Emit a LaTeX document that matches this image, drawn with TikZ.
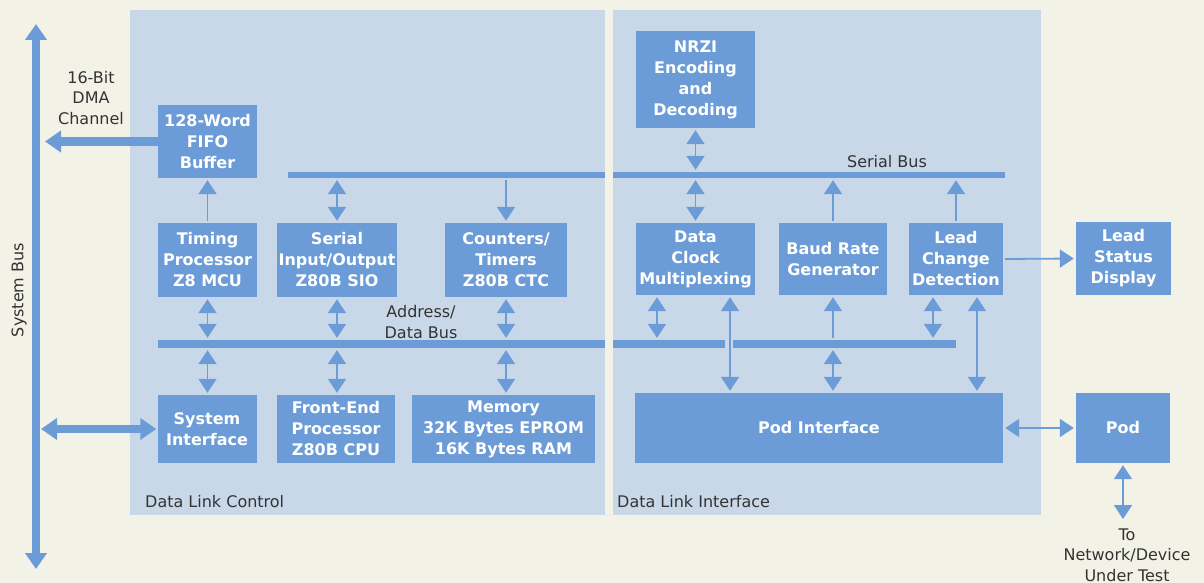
\documentclass[tikz,border=0pt]{standalone}
\usepackage{fontspec}
\usetikzlibrary{arrows.meta,calc}
\newfontfamily\djv{DejaVu Sans}
\newcommand\boxfnt{\djv\bfseries\fontsize{16}{21}\selectfont}
\newcommand\lblfnt{\djv\fontsize{16}{20.5}\selectfont}
\definecolor{bgc}{HTML}{F3F2E6}
\definecolor{panelc}{HTML}{C8D8E9}
\definecolor{boxc}{HTML}{6C9CD7}
\definecolor{txtc}{HTML}{333333}
\tikzset{
  box/.style={fill=boxc, text=white, font=\boxfnt, align=center, inner sep=0pt},
  bus/.style={fill=boxc, inner sep=0pt},
  lbl/.style={text=txtc, font=\lblfnt, align=center, inner sep=0pt},
  darr/.style={line width=1.8pt, draw=boxc, shorten <=2pt, shorten >=2pt,
    {Triangle[width=18pt,length=14pt]}-{Triangle[width=18pt,length=14pt]}},
  sarr/.style={line width=1.8pt, draw=boxc, shorten <=2pt, shorten >=2pt,
    -{Triangle[width=18pt,length=14pt]}},
  bigd/.style={line width=8pt, draw=boxc,
    {Triangle[width=21pt,length=16pt]}-{Triangle[width=21pt,length=16pt]}},
  bigs/.style={line width=8pt, draw=boxc, -{Triangle[width=21pt,length=16pt]}},
}
\begin{document}
\begin{tikzpicture}[x=1pt,y=-1pt]
\useasboundingbox (0,0) rectangle (1204,583);
\fill[bgc] (0,0) rectangle (1204,583);
% panels
\fill[panelc] (130,10) rectangle (609,515);
\fill[panelc] (609,10) rectangle (1041,515);
% buses
\node[bus, minimum width=717pt, minimum height=6pt] (sbus) at (646.5,175) {};
\node[bus, minimum width=567pt, minimum height=8pt] (abus1) at (441.5,344) {};
\node[bus, minimum width=223pt, minimum height=8pt] (abus2) at (844.5,344) {};
% gap between panels
\fill[bgc] (605,10) rectangle (613,515);
% boxes left
\node[box, minimum width=99pt, minimum height=73pt] (fifo) at (207.5,141.5) {128-Word\\FIFO\\Buffer};
\node[box, minimum width=99pt, minimum height=74pt] (timing) at (207.5,260) {Timing\\Processor\\Z8 MCU};
\node[box, minimum width=120pt, minimum height=74pt] (sio) at (337,260) {Serial\\Input/Output\\Z80B SIO};
\node[box, minimum width=122pt, minimum height=74pt] (ctc) at (506,260) {Counters/\\Timers\\Z80B CTC};
\node[box, minimum width=99pt, minimum height=68pt] (sysif) at (207,429) {System\\Interface};
\node[box, minimum width=118pt, minimum height=68pt] (fep) at (336,429) {Front-End\\Processor\\Z80B CPU};
\node[box, minimum width=183pt, minimum height=68pt] (mem) at (503.5,429) {Memory\\32K Bytes EPROM\\16K Bytes RAM};
% boxes right
\node[box, minimum width=119pt, minimum height=97pt] (nrzi) at (695.5,79.5) {NRZI\\Encoding\\and\\Decoding};
\node[box, minimum width=119pt, minimum height=72pt] (dcm) at (695.5,259) {Data\\Clock\\Multiplexing};
\node[box, minimum width=108pt, minimum height=72pt] (baud) at (833,259) {Baud Rate\\Generator};
\node[box, minimum width=94pt, minimum height=72pt] (lcd) at (956,259) {Lead\\Change\\Detection};
\node[box, minimum width=95pt, minimum height=73pt] (lsd) at (1123.5,258.5) {Lead\\Status\\Display};
\node[box, minimum width=368pt, minimum height=70pt] (podif) at (819,428) {Pod Interface};
\node[box, minimum width=94pt, minimum height=70pt] (pod) at (1123,428) {Pod};
% labels
\node[lbl, rotate=90] (lsys) at (19,290) {System Bus};
\node[lbl] (ldma) at (91,98) {16-Bit\\DMA\\Channel};
\node[lbl] (lser) at (887,162) {Serial Bus};
\node[lbl] (ladr) at (421,322) {Address/\\Data Bus};
\node[lbl, anchor=west] (ldlc) at (145,502) {Data Link Control};
\node[lbl, anchor=west] (ldli) at (617,502) {Data Link Interface};
\node[lbl] (lnet) at (1127,555) {To\\Network/Device\\Under Test};
% system bus
\coordinate (sbtop) at (36,24);
\coordinate (sbbot) at (36,569);
\draw[bigd] (sbtop) -- (sbbot);
\draw[bigs, shorten >=9pt] (fifo.west) -- (fifo.west -| sbtop);
\draw[bigd, shorten <=5pt, shorten >=1pt] (sysif.west -| sbtop) -- (sysif.west);
% left connectors
\draw[sarr] (timing.north) -- (fifo.south);
\draw[darr] (sio.north) -- (sio.north |- sbus.south);
\draw[sarr] (ctc.north |- sbus.south) -- (ctc.north);
\draw[darr] (timing.south) -- (timing.south |- abus1.north);
\draw[darr] (sio.south) -- (sio.south |- abus1.north);
\draw[darr] (ctc.south) -- (ctc.south |- abus1.north);
\draw[darr] (timing.south |- abus1.south) -- (sysif.north -| timing.south);
\draw[darr] (sio.south |- abus1.south) -- (fep.north -| sio.south);
\draw[darr] (ctc.south |- abus1.south) -- (mem.north -| ctc.south);
% right connectors
\draw[darr] (nrzi.south) -- (nrzi.south |- sbus.north);
\draw[darr] (dcm.north |- sbus.south) -- (dcm.north);
\draw[sarr] (baud.north) -- (baud.north |- sbus.south);
\draw[sarr] (lcd.north) -- (lcd.north |- sbus.south);
\draw[sarr] (lcd.east) -- (lsd.west);
\draw[darr] ([xshift=-38.5pt]dcm.south) -- ([xshift=-38.5pt]dcm.south |- abus1.north);
\draw[darr] ([xshift=34.5pt]dcm.south) -- ([xshift=34.5pt]dcm.south |- podif.north);
\draw[sarr] (baud.south |- abus2.north) -- (baud.south);
\draw[darr] (baud.south |- abus2.south) -- (podif.north -| baud.south);
\draw[darr] ([xshift=-23pt]lcd.south) -- ([xshift=-23pt]lcd.south |- abus2.north);
\draw[darr] ([xshift=21pt]lcd.south) -- ([xshift=21pt]lcd.south |- podif.north);
\draw[darr] (podif.east) -- (pod.west);
\coordinate (netend) at (1123,519);
\draw[darr, shorten >=0pt] (pod.south) -- (netend);
\end{tikzpicture}
\end{document}
